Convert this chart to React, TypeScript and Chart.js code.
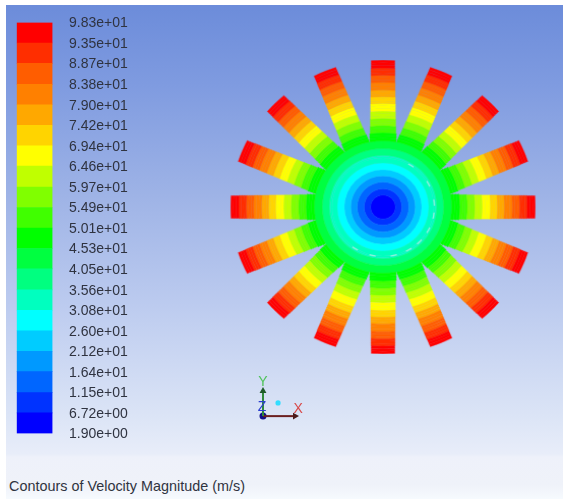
import React, { useEffect, useRef } from "react";
import { Chart, registerables } from "chart.js";

Chart.register(...registerables);

// Band colours, lowest velocity first
const bandColors = [
  "#0000ff", "#0033ff", "#0066ff", "#0099ff", "#00ccff",
  "#00ffff", "#00ffbf", "#00ff80", "#00ff40", "#00ff00",
  "#40ff00", "#80ff00", "#c0ff00", "#ffff00", "#ffd400",
  "#ffa800", "#ff8000", "#ff5d00", "#ff2e00", "#ff0000",
];
const levelValues = [
  1.9, 6.72, 11.5, 16.4, 21.2, 26.0, 30.8, 35.6, 40.5, 45.3, 50.1,
  54.9, 59.7, 64.6, 69.4, 74.2, 79.0, 83.8, 88.7, 93.5, 98.3,
];
const levelLabels = [
  "1.90e+00", "6.72e+00", "1.15e+01", "1.64e+01", "2.12e+01", "2.60e+01", "3.08e+01",
  "3.56e+01", "4.05e+01", "4.53e+01", "5.01e+01", "5.49e+01", "5.97e+01", "6.46e+01",
  "6.94e+01", "7.42e+01", "7.90e+01", "8.38e+01", "8.87e+01", "9.35e+01", "9.83e+01",
];
// Outer radius of each contour band, read along a blade
const bandOuterRadii = [
  12.5, 19, 26, 32.5, 39, 46, 54, 61, 69, 77.5,
  85, 92.5, 100, 108, 115, 122, 130, 137.5, 145, 153,
];
// Blade width across each band; 0 marks a band that is a closed part of the hub
const bandBladeWidths = [
  0, 0, 0, 0, 0, 0, 0, 0, 0, 27,
  26, 25.6, 25.2, 25, 24.8, 24.5, 24.3, 24, 24, 23.5,
];
// Pale dashes of the interface circle: clockwise centre angles from the top, degrees
const dashAngles = [33, 62, 85, 100, 118, 135, 150, 168, 192, 213];
const dashLength = 7;
const dashBand = { index: 6, from: 51, to: 52.6, color: "#8ff5dc" };

const bladeCount = 16;
const bladePitch = 360 / bladeCount;
const subRings = 3;

const axisTips = { x: [1, 0], y: [0, 1] };
const axisOrigin = [0, 0];
const triadMarker = [0.47, 0.41];

const FONT = "'Liberation Sans', Arial, sans-serif";

function closedRing(color: string, weight: number) {
  return { data: [360], backgroundColor: [color], borderColor: [color], borderWidth: 0.4, weight };
}

function bladeRing(angle: number, color: string, weight: number) {
  const data: number[] = [];
  const bg: string[] = [];
  for (let i = 0; i < bladeCount; i++) {
    data.push(angle, bladePitch - angle);
    bg.push(color, "rgba(0,0,0,0)");
  }
  return { data, backgroundColor: bg, borderColor: bg, borderWidth: 0.4, rotation: -angle / 2, weight };
}

function dashRing(base: string, weight: number) {
  const data: number[] = [];
  const bg: string[] = [];
  let at = 0;
  dashAngles.forEach((a) => {
    const start = a - dashLength / 2;
    data.push(start - at, dashLength);
    bg.push(base, dashBand.color);
    at = start + dashLength;
  });
  data.push(360 - at);
  bg.push(base);
  return { data, backgroundColor: bg, borderColor: bg, borderWidth: 0, weight };
}

// Rings listed from the centre outwards
function buildRings() {
  const rings: any[] = [];
  bandColors.forEach((color, i) => {
    const inner = i === 0 ? 0 : bandOuterRadii[i - 1];
    const outer = bandOuterRadii[i];
    const width = bandBladeWidths[i];
    if (i === dashBand.index) {
      rings.push(closedRing(color, dashBand.from - inner));
      rings.push(dashRing(color, dashBand.to - dashBand.from));
      rings.push(closedRing(color, outer - dashBand.to));
    } else if (width === 0) {
      rings.push(closedRing(color, outer - inner));
    } else {
      const step = (outer - inner) / subRings;
      for (let k = 0; k < subRings; k++) {
        const mid = inner + step * (k + 0.5);
        const angle = (2 * Math.atan(width / 2 / mid) * 180) / Math.PI;
        rings.push(bladeRing(Math.min(angle, bladePitch), color, step));
      }
    }
  });
  return rings.reverse(); // Chart.js draws the first dataset as the outermost ring
}

export default function App() {
  const barRef = useRef<HTMLCanvasElement>(null);
  const wheelRef = useRef<HTMLCanvasElement>(null);
  const triadRef = useRef<HTMLCanvasElement>(null);

  useEffect(() => {
    const bar = new Chart(barRef.current!, {
      type: "bar",
      data: {
        labels: [""],
        datasets: bandColors.map((c, i) => ({
          data: [[levelValues[i], levelValues[i + 1]]] as any,
          backgroundColor: c,
          borderWidth: 0,
          grouped: false,
          barPercentage: 1,
          categoryPercentage: 1,
        })),
      },
      options: {
        animation: false,
        responsive: false,
        layout: { padding: { top: 12.5, bottom: 12.5, left: 16.7, right: 0 } },
        plugins: { legend: { display: false }, tooltip: { enabled: false } },
        scales: {
          x: { display: false },
          y: {
            position: "right",
            min: levelValues[0],
            max: levelValues[levelValues.length - 1],
            grid: { display: false, drawTicks: false },
            border: { display: false },
            afterFit: (s: any) => {
              s.width = 97.5;
              s.paddingTop = 0;
              s.paddingBottom = 0;
            },
            afterBuildTicks: (s: any) => { s.ticks = levelValues.map((v) => ({ value: v })); },
            ticks: {
              autoSkip: false,
              padding: 16.5,
              labelOffset: 1,
              color: "#2f3340",
              font: { family: FONT, size: 14 },
              callback: (_v: any, i: number) => levelLabels[i],
            },
          },
        },
      },
    });

    const wheel = new Chart(wheelRef.current!, {
      type: "doughnut",
      data: { labels: [], datasets: buildRings() },
      options: {
        animation: false,
        responsive: false,
        cutout: 0,
        radius: "100%",
        plugins: { legend: { display: false }, tooltip: { enabled: false } },
      },
    });

    const triadLabels = {
      id: "triadLabels",
      afterDatasetsDraw(c: any) {
        const ctx = c.ctx;
        const px = (x: number, y: number): [number, number] => [c.scales.x.getPixelForValue(x), c.scales.y.getPixelForValue(y)];
        ctx.save();
        ctx.font = `14px ${FONT}`;
        ctx.textAlign = "center";
        ctx.textBaseline = "middle";
        ctx.fillStyle = "#4fc35a";
        ctx.fillText("Y", ...px(0, 1.06));
        ctx.fillStyle = "#d84a4a";
        ctx.fillText("X", ...px(1.1, 0.22));
        ctx.fillStyle = "#2a3fd0";
        ctx.fillText("Z", ...px(-0.03, 0.27));
        ctx.restore();
      },
    };

    const triad = new Chart(triadRef.current!, {
      type: "scatter",
      data: {
        datasets: [
          {
            data: [
              { x: axisOrigin[0], y: axisOrigin[1] },
              { x: axisTips.y[0], y: axisTips.y[1] * 0.78 },
            ],
            showLine: true,
            borderColor: "#2f8a3a",
            borderWidth: 2,
            pointStyle: "triangle",
            pointRadius: [0, 4],
            pointRotation: 0,
            pointBackgroundColor: "#1f5a2a",
            pointBorderWidth: 0,
          },
          {
            data: [
              { x: axisOrigin[0], y: axisOrigin[1] },
              { x: axisTips.x[0], y: axisTips.x[1] },
            ],
            showLine: true,
            borderColor: "#6b1f1f",
            borderWidth: 2,
            pointStyle: "triangle",
            pointRadius: [0, 4],
            pointRotation: 90,
            pointBackgroundColor: "#4a1a1a",
            pointBorderWidth: 0,
          },
          {
            data: [{ x: axisOrigin[0], y: axisOrigin[1] }],
            pointRadius: 3.5,
            pointBackgroundColor: "#10108a",
            pointBorderWidth: 0,
          },
          {
            data: [{ x: triadMarker[0], y: triadMarker[1] }],
            pointRadius: 2.6,
            pointBackgroundColor: "#33ddff",
            pointBorderWidth: 0,
          },
        ] as any,
      },
      options: {
        animation: false,
        responsive: false,
        layout: { padding: 0, autoPadding: false },
        plugins: { legend: { display: false }, tooltip: { enabled: false } },
        scales: {
          x: { display: false, min: -0.5, max: 1.6875 },
          y: { display: false, min: -0.4, max: 1.4 },
        },
      },
      plugins: [triadLabels],
    });

    return () => {
      bar.destroy();
      wheel.destroy();
      triad.destroy();
    };
  }, []);

  return (
    <div style={{ position: "fixed", inset: 0, width: 563, height: 499, background: "#fff", overflow: "hidden" }}>
      <div
        style={{
          position: "absolute",
          left: 6,
          top: 5,
          width: 557,
          height: 494,
          filter: "blur(0.6px)",
          background:
            "linear-gradient(to bottom, #6c8cda 0px, #7f9be0 80px, #9eb3e6 190px, #bccbef 300px, #dbe4f6 410px, #e8edf9 449px, #eef1fa 452px, #eff2f9 480px, #f6fafe 494px)",
        }}
      >
        <canvas ref={barRef} width={150} height={436} style={{ position: "absolute", left: -6, top: 5, display: "block" }} />
        <canvas
          ref={wheelRef}
          width={300}
          height={300}
          style={{ position: "absolute", left: 227, top: 52, display: "block", transform: "scale(1.0167, 0.98)" }}
        />
        <canvas ref={triadRef} width={70} height={58} style={{ position: "absolute", left: 241, top: 366, display: "block" }} />
        <div
          style={{
            position: "absolute",
            left: 3,
            top: 473,
            font: `14.4px ${FONT}`,
            color: "#2f3340",
            whiteSpace: "nowrap",
          }}
        >
          Contours of Velocity Magnitude (m/s)
        </div>
      </div>
    </div>
  );
}
